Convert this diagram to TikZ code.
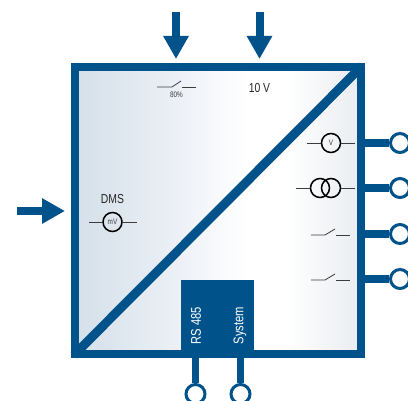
\documentclass[tikz,border=0pt]{standalone}
\usepackage{fontspec}
\setmainfont[FakeStretch=0.8]{Liberation Sans}
\usetikzlibrary{arrows.meta}
\definecolor{modulblue}{RGB}{0,83,138}
\definecolor{leadgray}{RGB}{60,60,60}
\definecolor{paneledge}{RGB}{212,224,234}
\definecolor{panelmid}{RGB}{232,237,244}
\definecolor{panelend}{RGB}{233,236,240}
\pgfdeclarehorizontalshading{panelshade}{100bp}{color(0bp)=(paneledge); color(25bp)=(paneledge); color(40bp)=(panelmid); color(55bp)=(white); color(62bp)=(white); color(75bp)=(panelend); color(100bp)=(panelend)}
\tikzset{
    panel/.style={draw=modulblue, line width=8pt, shading=panelshade, minimum width=286pt, minimum height=287pt, inner sep=0pt, outer sep=4pt},
    terminal/.style={circle, draw=modulblue, line width=3pt, fill=white, minimum size=19pt, inner sep=0pt},
    meter/.style={circle, draw=black, line width=1.5pt, minimum size=19pt, inner sep=0pt, font=\fontsize{8}{9}\selectfont, text=leadgray},
    wire/.style={draw=modulblue, line width=8pt},
    diagonal/.style={draw=modulblue, line width=9pt},
    thinwire/.style={draw=modulblue, line width=7.5pt},
    feed/.style={draw=modulblue, line width=8pt, -{Triangle[length=23pt, width=24pt]}},
    lead/.style={draw=leadgray, line width=0.8pt},
    label/.style={font=\fontsize{13}{15}\selectfont, text=black!85},
    portlabel/.style={font=\fontsize{14}{16}\selectfont, text=white, rotate=90}
}
\begin{document}
\begin{tikzpicture}[x=1pt, y=-1pt]
            \clip (0, 0) rectangle (408, 401);
            \node[panel] (module) at (218, 210.5) {};
            \draw[diagonal, shorten <=4pt, shorten >=4pt] (module.south west) -- (module.north east);
            \node[fill=modulblue, minimum width=73pt, minimum height=78pt, inner sep=0pt] (bus) at (217.5, 319) {};
            \node[portlabel] (rslabel) at (196, 325.5) {RS 485};
            \node[portlabel] (syslabel) at (240, 325.5) {System};
            % inputs
            \coordinate (feedA) at (176, 12);
            \coordinate (feedAend) at (176, 59);
            \coordinate (feedB) at (259.5, 12);
            \coordinate (feedBend) at (259.5, 59);
            \coordinate (feedC) at (17, 211);
            \coordinate (feedCend) at (65, 211);
            \draw[feed] (feedA) -- (feedAend);
            \draw[feed] (feedB) -- (feedBend);
            \draw[feed] (feedC) -- (feedCend);
            % outputs
            \node[terminal] (outA) at (400, 143) {};
            \node[terminal] (outB) at (400, 188) {};
            \node[terminal] (outC) at (400, 234) {};
            \node[terminal] (outD) at (400, 279) {};
            \node[terminal] (rsport) at (195.5, 394) {};
            \node[terminal] (sysport) at (240.5, 394) {};
            \draw[wire] (module.east |- outA) -- (outA);
            \draw[wire] (module.east |- outB) -- (outB);
            \draw[wire] (module.east |- outC) -- (outC);
            \draw[wire] (module.east |- outD) -- (outD);
            \draw[thinwire] (rsport |- bus.south) -- (rsport);
            \draw[thinwire] (sysport |- bus.south) -- (sysport);
            % symbols
            \node[label] (dms) at (112.5, 199) {DMS};
            \node[meter] (mvmeter) at (112.5, 222) {mV};
            \coordinate (mvleft) at (89, 222);
            \coordinate (mvright) at (137, 222);
            \draw[lead] (mvleft) -- (mvmeter);
            \draw[lead] (mvmeter) -- (mvright);
            \node[meter] (vmeter) at (331, 143) {V};
            \coordinate (vleft) at (307, 143);
            \coordinate (vright) at (355, 143);
            \draw[lead] (vleft) -- (vmeter);
            \draw[lead] (vmeter) -- (vright);
            \node[meter] (ringA) at (320, 188) {};
            \node[meter] (ringB) at (331, 188) {};
            \coordinate (ringleft) at (296, 188);
            \coordinate (ringright) at (355, 188);
            \draw[lead] (ringleft) -- (ringA);
            \draw[lead] (ringB) -- (ringright);
            \node[label] (tenvolt) at (259.5, 88) {10 V};
            \node[font=\fontsize{8}{9}\selectfont, text=leadgray] (limit) at (176.5, 95) {80\%};
            \draw[lead] (157, 87) -- (172, 87) -- (181, 81);
            \draw[lead] (182, 87) -- (196, 87);
            \draw[lead] (311, 235) -- (325, 235) -- (335, 229);
            \draw[lead] (336, 235) -- (350, 235);
            \draw[lead] (311, 280) -- (325, 280) -- (335, 274);
            \draw[lead] (336, 280) -- (350, 280);
        \end{tikzpicture}
\end{document}
